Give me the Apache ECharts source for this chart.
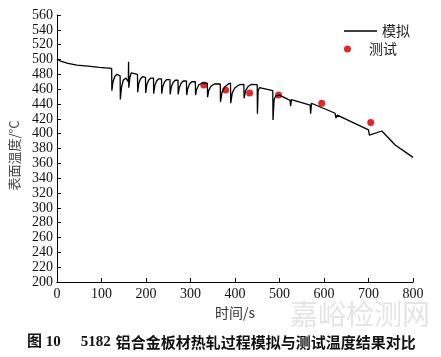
<!DOCTYPE html>
<html><head><meta charset="utf-8">
<script src="https://cdn.jsdelivr.net/npm/echarts@6/dist/echarts.min.js"></script>
<style>html,body{margin:0;padding:0;background:#fff}#c{width:441px;height:357px}</style>
</head><body><div id="c"></div>
<script>
// simulated surface temperature (time s, temperature °C)
const simTime = [0,10,25,45,70,95,123,123.5,126,130,135,142,142.5,145,149,155,160.5,161,161.5,164,167,
 181,181.5,184,188,193,199,199.5,202,206,211,217,217.5,220,224,229,235,235.5,238,242,247,254,254.5,257,261,266,
 272,272.5,275,279,284,291,291.5,294,298,303,311,311.5,314,319,326,338,338.5,341,346,354,367,367.5,371,377,385,
 390,390.5,394,400,410,420,420.5,424,430,437,450,450.5,452,455,470,485,485.5,488,492,500,524,525,527,569,570,572,
 625,627,630,700,702,730,760,800];
const simTemp = [500,497.5,494.8,492.5,491,489.5,488,458,470,477,480,478,446,462,472,475,470,497,462,476,482,
 480,456,468,474,477,476,455,466,472,475,475,454,465,471,474,474,454,464,470,473,473,453,463,469,472,
 472,453,462,468,471,471,452,461,467,470,470,452,460,466,468,468,449,458,464,467,467,443,456,463,467,
 468,441,455,462,466,466.5,447.7,458,464,466.5,466,427,458,462,460,458,418.5,446,451,452,445,437,446,438.6,427,441,
 427.5,421,425,405,398,403.6,384.7,368];
// measured points
const testTime = [330,379,433,498,595,705];
const testTemp = [465.5,459,455,452,441,415];
const xTicks = [0,100,200,300,400,500,600,700,800];

const simData = simTime.map((t,i)=>[t,simTemp[i]]);
const testData = testTime.map((t,i)=>[t,testTemp[i]]);
const serif = '"Liberation Serif","Times New Roman",serif';
const cjk = '"Noto Sans CJK SC","Noto Sans",sans-serif';

const chart = echarts.init(document.getElementById('c'), null, {renderer:'canvas'});
chart.setOption({
  animation:false,
  backgroundColor:'#fff',
  grid:{left:56,right:28,top:15,bottom:75,containLabel:false},
  title:{
    left:22, top:328,
    text:'{b|图 10}    {s|5182} {n|铝合金板材热轧过程模拟与测试温度结果对比}',
    textStyle:{rich:{
      b:{fontFamily:serif+','+cjk,fontWeight:'bold',fontSize:15,color:'#111'},
      s:{fontFamily:serif,fontWeight:'bold',fontSize:15,color:'#111'},
      n:{fontFamily:cjk,fontSize:15,color:'#111'}
    }}
  },
  graphic:[{type:'text',left:290,top:300,z:-1,style:{text:'嘉峪检测网',fontSize:28,fontFamily:cjk,fill:'#e4e4e4'}}],
  legend:[
    {data:[{name:'模拟',icon:'rect'}],orient:'vertical',left:339,top:19,itemWidth:33,itemHeight:1.5,
     itemStyle:{color:'#000'},
     textStyle:{fontFamily:cjk,fontSize:14,color:'#222'}},
    {data:[{name:'测试',icon:'circle'}],orient:'vertical',left:339,top:37,itemWidth:33,itemHeight:7,
     textStyle:{fontFamily:cjk,fontSize:14,color:'#222'}}
  ],
  xAxis:{type:'value',min:0,max:800,interval:100,
    name:'时间/s',nameLocation:'middle',nameGap:14,
    nameTextStyle:{fontFamily:cjk,fontSize:14,color:'#333'},
    axisLine:{show:true,lineStyle:{color:'#000',width:1}},
    axisTick:{show:true,inside:true,length:4,lineStyle:{color:'#000'}},
    axisLabel:{fontFamily:serif,fontSize:14,color:'#111',margin:5},
    splitLine:{show:false}},
  yAxis:{type:'value',min:200,max:560,interval:20,
    name:'表面温度/°C',nameLocation:'middle',nameRotate:90,nameGap:34,
    nameTextStyle:{fontFamily:cjk,fontSize:13,color:'#444',padding:[0,14,0,0]},
    axisLine:{show:true,lineStyle:{color:'#000',width:1}},
    axisTick:{show:true,inside:true,length:4,lineStyle:{color:'#000'}},
    axisLabel:{fontFamily:serif,fontSize:14,color:'#111',margin:4},
    splitLine:{show:false}},
  series:[
    {name:'模拟',type:'line',data:simData,symbol:'none',
     lineStyle:{color:'#000',width:1.3},itemStyle:{color:'#000'}},
    {name:'测试',type:'scatter',data:testData,symbolSize:7,
     itemStyle:{color:'#e3262b',opacity:1}}
  ]
});
</script></body></html>
